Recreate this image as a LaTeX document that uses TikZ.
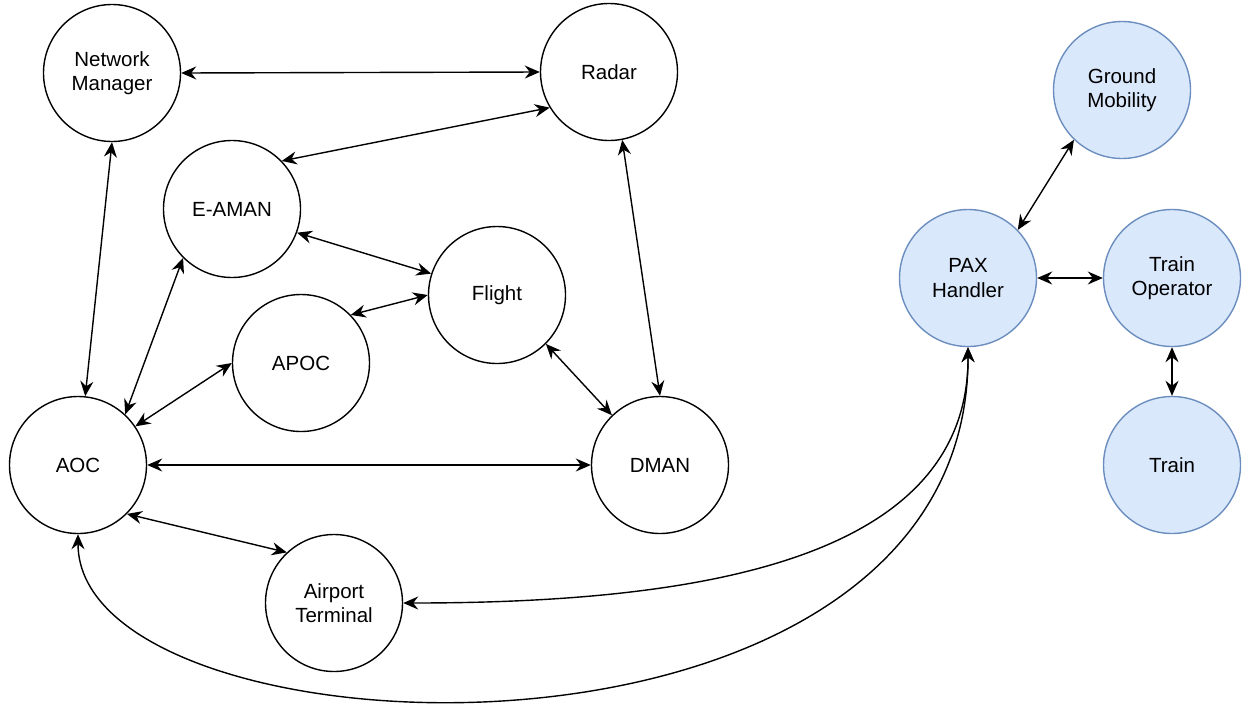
\documentclass[tikz,border=0pt]{standalone}
\usepackage{fontspec}
\setmainfont{Liberation Sans}
\usetikzlibrary{arrows.meta, positioning}

\definecolor{blueline}{HTML}{6C8EBF}
\definecolor{bluefill}{HTML}{DAE8FC}

\begin{document}
\begin{tikzpicture}[x=1pt,y=-1pt,>={Stealth[length=15pt,width=13pt,inset=5pt]},<->,line width=1.4pt,
    main node/.style={circle,draw,fill=white,minimum size=137pt,inner sep=0pt,align=center,font=\fontsize{20.5}{24.6}\selectfont},
    blue node/.style={main node,draw=blueline,fill=bluefill}]

        \useasboundingbox (0,0) rectangle (1247,710);

        \node[main node] (nm)      at (112,73)  {Network\\Manager};
        \node[main node] (radar)   at (609,72)  {Radar};
        \node[main node] (eaman)   at (232,209) {E-AMAN};
        \node[main node] (flight)  at (497,295) {Flight};
        \node[main node] (apoc)    at (301,363) {APOC};
        \node[main node] (aoc)     at (78,465)  {AOC};
        \node[main node] (dman)    at (660,465) {DMAN};
        \node[main node] (term)    at (334,603) {Airport\\Terminal};

        \node[blue node] (gm)      at (1122,90)  {Ground\\Mobility};
        \node[blue node] (pax)     at (968,278)  {PAX\\Handler};
        \node[blue node] (trainop) at (1172,278) {Train\\Operator};
        \node[blue node] (train)   at (1172,465) {Train};

          \path
            (nm.east)      edge (radar.west)
            (radar.211)    edge (eaman.44)
            (nm.south)     edge (aoc.84)
            (eaman.225)    edge (aoc.47)
            (eaman.-20)    edge (flight.162)
            (apoc.44)      edge (flight.180)
            (apoc.west)    edge (aoc.34)
            (radar.-79)    edge (dman.north)
            (flight.-45)   edge (dman.134)
            (aoc.east)     edge (dman.west)
            (aoc.-45)      edge (term.133)
            (pax.44)       edge (gm.226)
            (pax.east)     edge (trainop.west)
            (trainop.south) edge (train.north);

        \draw (pax.south) .. controls (969,560) and (700,603) .. (term.east);
        \draw (pax.south) .. controls (969,800) and (78,765) .. (aoc.south);
\end{tikzpicture}
\end{document}
